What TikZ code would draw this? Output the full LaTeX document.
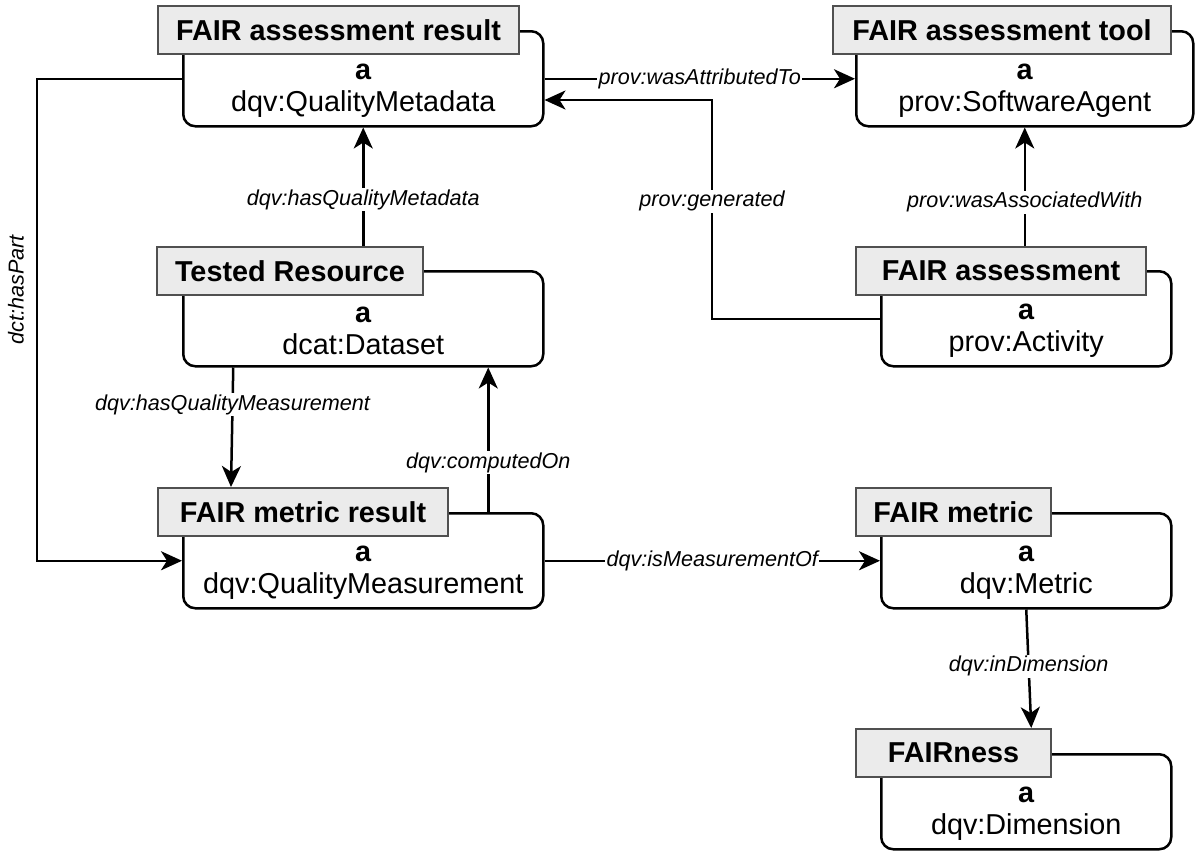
\documentclass[tikz,border=0pt]{standalone}
\usepackage{fontspec}
\setmainfont{Liberation Sans}
\usetikzlibrary{arrows.meta}
\definecolor{headfill}{HTML}{EBEBEB}
\definecolor{headdraw}{HTML}{505050}
\tikzset{
  body/.style={draw=black, line width=2.5pt, rounded corners=12pt, minimum height=95pt, inner sep=0pt, anchor=north west},
  head/.style={draw=headdraw, fill=headfill, line width=2pt, minimum height=48pt, inner sep=0pt, anchor=north west, font=\fontsize{28.8}{32}\selectfont\bfseries},
  cls/.style={align=center, inner sep=0pt, font=\fontsize{28.8}{31.5}\selectfont},
  conn/.style={line width=2.5pt, -{Stealth[length=21pt,width=19pt,inset=6pt]}},
  lbl/.style={fill=white, inner sep=1.5pt, font=\fontsize{21.6}{24}\selectfont\itshape}
}
\begin{document}
\begin{tikzpicture}[x=1pt,y=-1pt]
\useasboundingbox (0,0) rectangle (1200,855);

% FAIR assessment result
\node[body, minimum width=360pt] (res) at (182,30) {};
\node[head, minimum width=361pt] (resH) at (157,5) {FAIR assessment result};
\node[cls] (resT) at ([yshift=-12pt]res.center) {\textbf{a}\\dqv:QualityMetadata};

% FAIR assessment tool
\node[body, minimum width=337pt] (tool) at (855,30) {};
\node[head, minimum width=338pt] (toolH) at (832,5) {FAIR assessment tool};
\node[cls] (toolT) at ([yshift=-12pt]tool.center) {\textbf{a}\\prov:SoftwareAgent};

% Tested Resource
\node[body, minimum width=360pt] (tested) at (182,270) {};
\node[head, minimum width=266pt] (testedH) at (156,246) {Tested Resource};
\node[cls] (testedT) at ([yshift=-12pt]tested.center) {\textbf{a}\\dcat:Dataset};

% FAIR assessment
\node[body, minimum width=290pt] (act) at (880,270) {};
\node[head, minimum width=290pt] (actH) at (855,246) {FAIR assessment};
\node[cls] (actT) at ([yshift=-12pt]act.center) {\textbf{a}\\prov:Activity};

% FAIR metric result
\node[body, minimum width=360pt] (mres) at (182,512) {};
\node[head, minimum width=290pt] (mresH) at (157,487) {FAIR metric result};
\node[cls] (mresT) at ([yshift=-12pt]mres.center) {\textbf{a}\\dqv:QualityMeasurement};

% FAIR metric
\node[body, minimum width=290pt] (metric) at (880,512) {};
\node[head, minimum width=195pt] (metricH) at (855,487) {FAIR metric};
\node[cls] (metricT) at ([yshift=-12pt]metric.center) {\textbf{a}\\dqv:Metric};

% FAIRness
\node[body, minimum width=290pt] (dim) at (880,753) {};
\node[head, minimum width=195pt] (dimH) at (855,728) {FAIRness};
\node[cls] (dimT) at ([yshift=-12pt]dim.center) {\textbf{a}\\dqv:Dimension};

% connectors
\coordinate (g1) at (712,100);
\coordinate (hp) at (37,0);

\draw[conn] (res.east) -- node[lbl]{prov:wasAttributedTo} (tool.west);

\draw[conn] (act.west) -- (act.west -| g1) -- node[lbl,pos=0.537]{prov:generated} (g1) -- (g1 -| res.east);

\draw[conn] (tool.south |- actH.north) -- node[lbl,pos=0.37]{prov:wasAssociatedWith} (tool.south);

\draw[conn] (res.south |- testedH.north) -- node[lbl,pos=0.39]{dqv:hasQualityMetadata} (res.south);

\draw[conn] ([xshift=-130pt]tested.south) -- node[lbl,pos=0.31]{dqv:hasQualityMeasurement} ([xshift=-72pt]mresH.north);

\draw[conn] ([xshift=125pt]mres.north) -- node[lbl,pos=0.34]{dqv:computedOn} ([xshift=125pt]tested.south);

\draw[conn] (res.west) -- (res.west -| hp) -- (mres.west -| hp) -- (mres.west);
\node[font=\fontsize{21.6}{24}\selectfont\itshape, rotate=90, inner sep=0pt] (hpL) at (16,290) {dct:hasPart};

\draw[conn] (mres.east) -- node[lbl]{dqv:isMeasurementOf} (metric.west);

\draw[conn] (metric.south) -- node[lbl,pos=0.48]{dqv:inDimension} ([xshift=5pt]metric.south |- dimH.north);
\end{tikzpicture}
\end{document}
